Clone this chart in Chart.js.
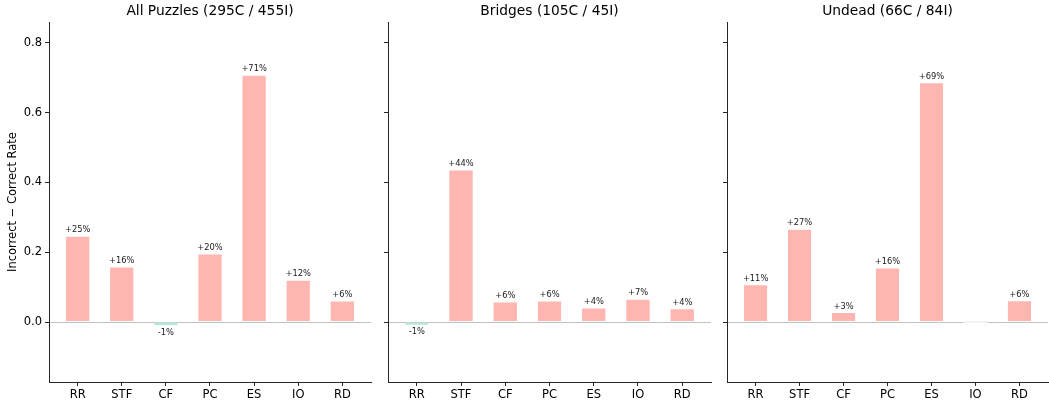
<!DOCTYPE html>
<html>
<head>
<meta charset="utf-8">
<script src="https://cdn.jsdelivr.net/npm/chart.js@4/dist/chart.umd.min.js"></script>
<style>
  html, body { margin: 0; padding: 0; background: #fff; }
  #wrap { position: relative; width: 1049px; height: 402px; overflow: hidden; }
  .panel { position: absolute; top: 0; height: 402px; }
</style>
</head>
<body>
<div id="wrap">
  <div class="panel" style="left:0px;width:380px"><canvas id="c0" width="380" height="402"></canvas></div>
  <div class="panel" style="left:380px;width:340px"><canvas id="c1" width="340" height="402"></canvas></div>
  <div class="panel" style="left:719px;width:330px"><canvas id="c2" width="330" height="402"></canvas></div>
</div>
<script>
// Strategy categories shared by every panel
const categories = ['RR', 'STF', 'CF', 'PC', 'ES', 'IO', 'RD'];

// Difference between incorrect and correct rate per strategy
const allPuzzles = [0.246, 0.158, -0.011, 0.195, 0.707, 0.120, 0.060];
const bridges    = [-0.009, 0.436, 0.057, 0.060, 0.040, 0.065, 0.038];
const undead     = [0.107, 0.266, 0.027, 0.155, 0.686, 0.000, 0.061];

const panelTitles = ['All Puzzles (295C / 455I)', 'Bridges (105C / 45I)', 'Undead (66C / 84I)'];
const yTicks = [0.0, 0.2, 0.4, 0.6, 0.8];
const yLabel = 'Incorrect \u2212 Correct Rate';

Chart.defaults.font.family = "'DejaVu Sans', sans-serif";
Chart.defaults.color = '#000';

const POS = '#ffb6b1';
const NEG = '#b3ead8';
const AXIS = '#262626';

// Percent annotations above (or below) each non-zero bar
const valueLabels = {
  id: 'valueLabels',
  afterDatasetsDraw(chart) {
    const ctx = chart.ctx;
    const meta = chart.getDatasetMeta(0);
    const ds = chart.data.datasets[0];
    ctx.save();
    ctx.font = "8.3px 'DejaVu Sans', sans-serif";
    ctx.textAlign = 'center';
    meta.data.forEach((el, i) => {
      const v = ds.data[i].y;
      if (v === 0) {
        // a zero-height bar only shows its white edge across the zero line
        ctx.fillStyle = '#f4f4f4';
        ctx.fillRect(el.x - el.width / 2, el.y - 1, el.width, 2);
        return;
      }
      const pct = Math.round(v * 100);
      const txt = (pct > 0 ? '+' : '') + pct + '%';
      ctx.fillStyle = '#1a1a1a';
      if (v > 0) {
        ctx.textBaseline = 'bottom';
        ctx.fillText(txt, el.x, el.y - 2);
      } else {
        ctx.textBaseline = 'top';
        ctx.fillText(txt, el.x, el.y + 3);
      }
    });
    ctx.restore();
  }
};

function makePanel(canvasId, values, title, showYLabels, yWidth, rightPad) {
  const points = values.map((v, i) => ({ x: i, y: v }));
  return new Chart(document.getElementById(canvasId), {
    type: 'bar',
    data: {
      datasets: [{
        data: points,
        backgroundColor: points.map(p => p.y >= 0 ? POS : NEG),
        borderColor: 'rgba(255,255,255,0.8)',
        borderWidth: 0.5,
        borderSkipped: false,
        barPercentage: 0.55,
        categoryPercentage: 1.0
      }]
    },
    options: {
      responsive: false,
      animation: false,
      events: [],
      layout: { padding: { left: 0, right: rightPad, top: 0, bottom: 0 } },
      plugins: {
        legend: { display: false },
        tooltip: { enabled: false },
        title: { display: false }
      },
      scales: {
        x: {
          type: 'linear',
          min: -0.65,
          max: 6.65,
          offset: false,
          afterBuildTicks: axis => { axis.ticks = categories.map((_, i) => ({ value: i })); },
          afterFit: axis => { axis.height = 20; },
          ticks: {
            callback: v => categories[v],
            font: { size: 11.5 },
            color: '#000',
            padding: 2,
            maxRotation: 0,
            autoSkip: false
          },
          grid: { offset: false, drawOnChartArea: false, drawTicks: true, tickLength: 4, tickColor: AXIS, tickWidth: 1 },
          border: { color: AXIS, width: 1 }
        },
        head: {
          type: 'linear',
          position: 'top',
          axis: 'x',
          min: 0,
          max: 1,
          afterFit: axis => { axis.height = 22; },
          ticks: { display: false },
          grid: { display: false, drawTicks: false },
          border: { display: false },
          title: {
            display: true,
            text: title,
            font: { size: 13.8 },
            color: '#000',
            padding: { top: 3, bottom: 2 }
          }
        },
        y: {
          min: -0.172,
          max: 0.86,
          afterBuildTicks: axis => { axis.ticks = yTicks.map(v => ({ value: v })); },
          afterFit: axis => { axis.width = yWidth; },
          ticks: {
            display: showYLabels,
            callback: v => v.toFixed(1),
            font: { size: 11.5 },
            color: '#000',
            padding: 3
          },
          grid: {
            drawOnChartArea: true,
            color: c => (c.tick && c.tick.value === 0) ? '#c2c2c2' : 'rgba(0,0,0,0)',
            lineWidth: 1,
            drawTicks: true,
            tickLength: 4,
            tickColor: AXIS,
            tickWidth: 1
          },
          border: { color: AXIS, width: 1 },
          title: {
            display: showYLabels,
            text: yLabel,
            font: { size: 11.5 },
            color: '#000',
            padding: { top: 6, bottom: 0 }
          }
        }
      }
    },
    plugins: [valueLabels]
  });
}

makePanel('c0', allPuzzles, panelTitles[0], true, 49, 9);
makePanel('c1', bridges, panelTitles[1], false, 8, 9);
makePanel('c2', undead, panelTitles[2], false, 8, 1);
</script>
</body>
</html>
